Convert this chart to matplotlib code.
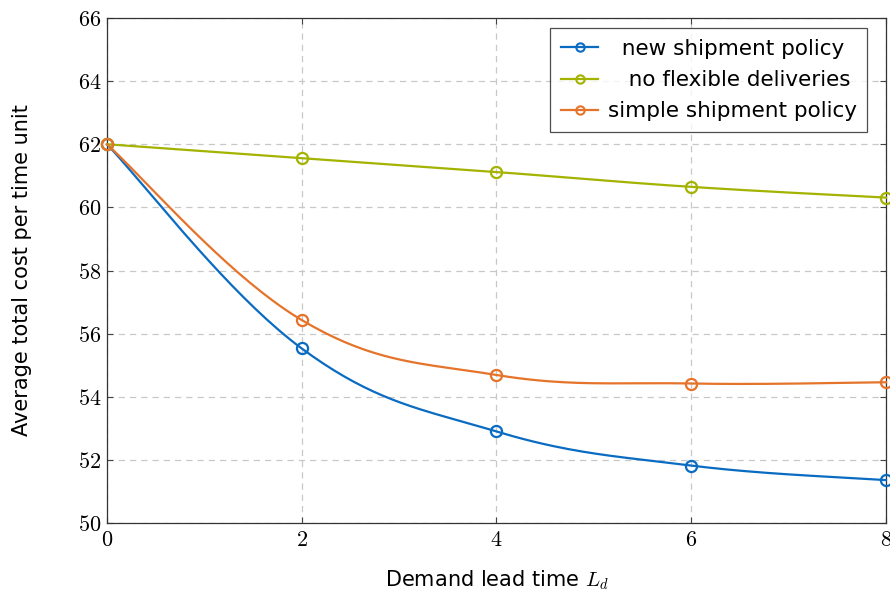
import numpy as np
import matplotlib
matplotlib.use("Agg")
import matplotlib.pyplot as plt
from matplotlib.ticker import FuncFormatter

plt.rcParams['mathtext.fontset'] = 'cm'

lead_time = [0, 2, 4, 6, 8]
new_policy = [62.0, 55.53, 52.9, 51.82, 51.36]
no_flex = [62.0, 61.56, 61.12, 60.65, 60.31]
simple_policy = [62.0, 56.43, 54.69, 54.42, 54.46]

names = ["  new shipment policy", "   no flexible deliveries", "simple shipment policy"]
colors = ["#0a6bc2", "#a3b300", "#e5742a"]


def smooth(x, y, tension=0.19, n=40):
    # smooth curve through the points (cubic bezier segments)
    p = np.column_stack([x, y]).astype(float)
    out = []
    for i in range(len(p) - 1):
        a, b = p[i], p[i + 1]
        prev = p[i - 1] if i > 0 else a
        nxt = p[i + 2] if i + 2 < len(p) else b
        c1 = a + tension * (b - prev)
        c2 = b - tension * (nxt - a)
        t = np.linspace(0, 1, n)[:, None]
        seg = (1 - t) ** 3 * a + 3 * (1 - t) ** 2 * t * c1 + 3 * (1 - t) * t ** 2 * c2 + t ** 3 * b
        out.append(seg if i == 0 else seg[1:])
    s = np.vstack(out)
    return s[:, 0], s[:, 1]


fig = plt.figure(figsize=(8.9, 5.94), dpi=100)
ax = fig.add_axes([0.1202, 0.1195, 0.8753, 0.8502])

for vals, name, c in zip([new_policy, no_flex, simple_policy], names, colors):
    xs, ys = smooth(np.array(lead_time) / 8.0 * 779, (np.array(vals) - 50) / 16.0 * 505)
    ax.plot(xs / 779 * 8.0, ys / 505 * 16.0 + 50, color=c, lw=1.6, zorder=3, clip_on=False)
    ax.plot(lead_time, vals, 'o', mfc='none', mec=c, mew=1.6, ms=8, zorder=4, clip_on=False)
    ax.plot([], [], '-o', color=c, mfc='none', mew=1.5, ms=6, lw=1.6, label=name)

ax.set_xlim(0, 8)
ax.set_ylim(50, 66)
ax.set_xticks(lead_time)
ax.set_yticks(np.arange(50, 67, 2))
fmt = FuncFormatter(lambda v, p: r"$%d$" % v)
ax.xaxis.set_major_formatter(fmt)
ax.yaxis.set_major_formatter(fmt)
ax.tick_params(direction='in', length=4, width=0.8, labelsize=16, top=True, right=True,
               color='#444444', pad=4)
ax.tick_params(axis='x', pad=5)
ax.grid(True, color='#c8c8c8', ls=(0, (5, 4)), lw=0.9)
for s in ax.spines.values():
    s.set_color('#333333')
    s.set_linewidth(0.9)

ax.set_xlabel(r"Demand lead time $L_d$", fontsize=15, labelpad=13)
ax.set_ylabel("Average total cost per time unit", fontsize=15, labelpad=33)

leg = ax.legend(loc='upper right', fontsize=15.5, frameon=True, fancybox=False,
                edgecolor='#222222', handlelength=1.7, borderpad=0.5,
                labelspacing=0.52, handletextpad=0.45, borderaxespad=0,
                bbox_to_anchor=(0.976, 0.98))
leg.get_frame().set_linewidth(0.9)

fig.savefig("out.png", dpi=100)
